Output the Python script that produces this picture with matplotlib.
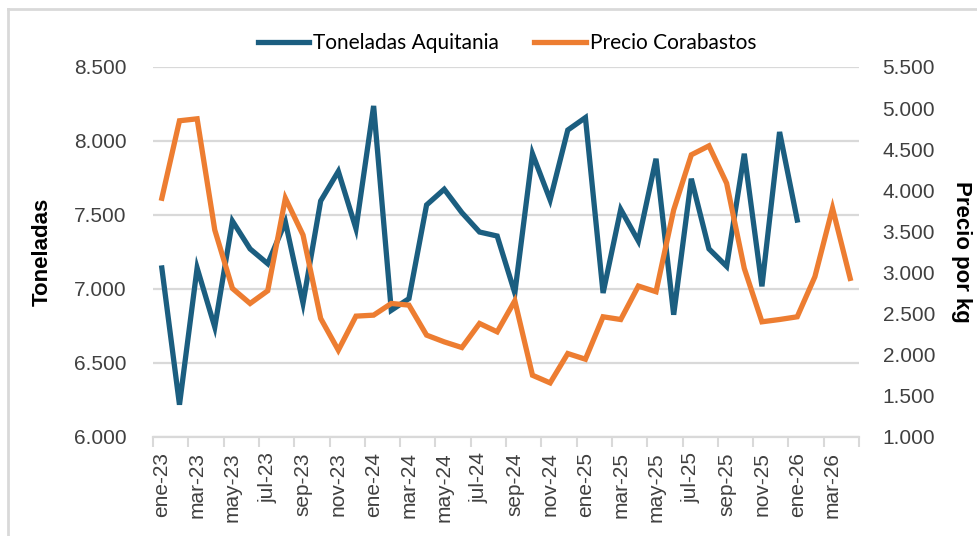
"""Toneladas Aquitania vs precio Corabastos, serie mensual."""

from matplotlib import pyplot
from matplotlib.lines import Line2D
from matplotlib.ticker import FixedLocator, FuncFormatter, NullFormatter

# Monthly categories ene-23 .. abr-26.
meses = ['ene', 'feb', 'mar', 'abr', 'may', 'jun',
         'jul', 'ago', 'sep', 'oct', 'nov', 'dic']
categorias = ['{}-{}'.format(m, a) for a in (23, 24, 25, 26) for m in meses][:40]

# Tonnes, Aquitania (ene-23 .. ene-26).
toneladas = [7142, 6218, 7142, 6743, 7459, 7271, 7171, 7453, 6905, 7595,
             7795, 7408, 8237, 6856, 6935, 7568, 7674, 7516, 7385, 7358,
             6973, 7914, 7602, 8074, 8158, 6973, 7538, 7324, 7880, 6826,
             7745, 7271, 7153, 7914, 7018, 8061, 7466]

# Price per kg, Corabastos (ene-23 .. abr-26).
precio = [3904, 4846, 4870, 3518, 2807, 2624, 2779, 3904, 3457, 2442,
          2056, 2470, 2482, 2624, 2604, 2239, 2157, 2088, 2381, 2279,
          2657, 1751, 1658, 2015, 1946, 2462, 2429, 2836, 2767, 3761,
          4432, 4541, 4086, 3051, 2401, 2429, 2462, 2949, 3782, 2929]

azul = '#1b5e80'
naranja = '#ed7d31'
gris = '#d9d9d9'
texto = '#404040'

pyplot.rc('font', family='Liberation Sans', size=15)
fig = pyplot.figure(figsize=(9.77, 5.36), dpi=100)
ax = fig.add_axes([153 / 977, 1 - 437 / 536, 706 / 977, 370 / 536])
ax2 = ax.twinx()

x = list(range(len(categorias)))
l1, = ax.plot(x[:len(toneladas)], toneladas, color=azul, lw=3.8,
              solid_joinstyle='miter', label='Toneladas Aquitania', zorder=3)
l2, = ax2.plot(x, precio, color=naranja, lw=3.8,
               solid_joinstyle='miter', label='Precio Corabastos', zorder=3)

miles = FuncFormatter(lambda v, pos: '{:,.0f}'.format(v).replace(',', '.'))

ax.set_xlim(-0.5, len(categorias) - 0.5)
ax.set_ylim(6000, 8500)
ax.set_yticks(range(6000, 8501, 500))
ax.yaxis.set_major_formatter(miles)
ax.grid(axis='y', color=gris, lw=1.6)
ax.set_axisbelow(True)

ax2.set_ylim(1000, 5500)
ax2.set_yticks(range(1000, 5501, 500))
ax2.yaxis.set_major_formatter(miles)

# Tick marks between categories, labels every two months.
ax.xaxis.set_major_locator(FixedLocator([i - 0.5 for i in range(0, 41, 2)]))
ax.xaxis.set_major_formatter(NullFormatter())
ax.xaxis.set_minor_locator(FixedLocator(x[::2]))
ax.set_xticklabels(categorias[::2], minor=True, rotation=90, color=texto)
ax.tick_params(axis='x', which='major', length=7, width=1.5, color=gris)
ax.tick_params(axis='x', which='minor', length=0, pad=11)
ax.tick_params(axis='y', length=0, pad=19, labelcolor=texto)
ax2.tick_params(axis='y', length=0, pad=17, labelcolor=texto)

for a in (ax, ax2):
    for side in ('top', 'left', 'right'):
        a.spines[side].set_visible(False)
ax.spines['bottom'].set_color(gris)
ax.spines['bottom'].set_linewidth(1.6)
ax2.spines['bottom'].set_visible(False)

ax.set_ylabel('Toneladas', fontweight='bold', color='black', fontsize=16)
ax.yaxis.set_label_coords(-0.1416, 0.5)
ax2.set_ylabel('Precio por kg', fontweight='bold', color='black',
               fontsize=16, rotation=270, va='center')
ax2.yaxis.set_label_coords(1.1445, 0.5)

fig.legend(handles=[l1, l2], loc='center', bbox_to_anchor=(0.519, 1 - 43 / 536),
           ncol=2, frameon=False, handlelength=2.45, handletextpad=0.2,
           columnspacing=1.7, prop={'family': 'Lato', 'size': 15})

# Thin frame of the chart area (left and top edges in view).
fig.add_artist(Line2D([8 / 977, 8 / 977], [0, 1 - 9 / 536], color=gris, lw=2,
                      transform=fig.transFigure))
fig.add_artist(Line2D([8 / 977, 1], [1 - 9 / 536, 1 - 9 / 536], color=gris,
                      lw=2, transform=fig.transFigure))

fig.savefig('out.png', dpi=100)
